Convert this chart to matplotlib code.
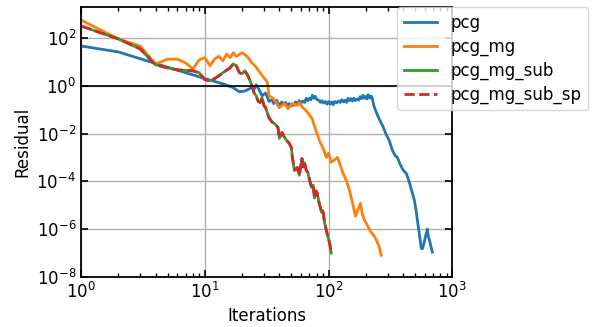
import matplotlib
matplotlib.use("Agg")
import matplotlib.pyplot as plt
from matplotlib.ticker import LogLocator, NullLocator

# pcg
it_pcg = [1, 2, 4, 6, 10, 14, 17, 19, 21, 23, 24, 25, 26, 27, 29, 31, 33, 35, 36, 38,
          40, 42, 43, 45, 46, 48, 50, 51, 53, 54, 56, 58, 60, 62, 64, 66, 68, 70, 72,
          74, 76, 78, 80, 83, 86, 88, 91, 94, 97, 100, 103, 106, 109, 112, 116, 120,
          124, 128, 132, 136, 140, 144, 148, 152, 156, 160, 165, 170, 175, 180, 185,
          190, 195, 200, 204, 208, 212, 215, 219, 222, 226, 232, 245,
          260, 275, 290, 310, 328, 345, 360, 380, 400, 426, 450, 470, 494, 510, 522,
          545, 562, 573, 590, 606, 618, 629, 640, 653, 670, 690]
res_pcg = [46, 26, 8.5, 4.5, 2.0, 1.2, 0.83, 0.56, 0.6, 0.75, 0.85, 0.7, 1.1, 0.8, 0.38,
           0.5, 0.22, 0.26, 0.18, 0.25, 0.15, 0.21, 0.17, 0.2, 0.14, 0.18, 0.14, 0.17,
           0.15, 0.21, 0.18, 0.24, 0.19, 0.23, 0.2, 0.3, 0.24, 0.3, 0.26, 0.4, 0.3, 0.36,
           0.27, 0.25, 0.2, 0.24, 0.19, 0.22, 0.17, 0.22, 0.17, 0.21, 0.16, 0.22, 0.19,
           0.23, 0.2, 0.26, 0.21, 0.25, 0.2, 0.3, 0.24, 0.29, 0.23, 0.3, 0.24, 0.28, 0.25,
           0.35, 0.29, 0.4, 0.3, 0.35, 0.28, 0.42, 0.31, 0.38, 0.3, 0.36, 0.3, 0.15, 0.07,
           0.035, 0.02, 0.01, 5e-3, 2e-3, 1.2e-3, 1e-3, 5e-4, 3e-4, 2.1e-4, 9e-5, 4e-5,
           1.6e-5, 6e-6, 2.4e-6, 5e-7, 1.6e-7, 1.5e-7, 2.5e-7, 4.7e-7, 7e-7, 1e-6, 5e-7,
           3.5e-7, 2e-7, 1.1e-7]

# pcg_mg
it_mg = [1, 2, 3, 4, 5, 6, 7, 8, 9, 10, 11, 12, 13, 14, 15, 16, 17, 18, 20, 22, 24, 26,
         28, 30, 32, 33, 36, 40, 44, 47, 51, 56, 58, 62, 66, 70, 74, 77, 82, 86, 90, 96,
         100, 105, 112, 118, 124, 130, 140, 147, 155, 165, 172, 181, 188, 195, 205, 220,
         235, 243, 255, 267]
res_mg = [560, 91, 46, 8.0, 13, 13, 9, 5.1, 12, 15, 6.8, 13, 17, 11, 21, 15, 24, 17, 24,
          17, 9, 6, 3.5, 2.2, 1.4, 0.38, 0.29, 0.12, 0.18, 0.11, 0.18, 0.15, 0.2, 0.12,
          0.09, 0.06, 0.04, 0.02, 8e-3, 4e-3, 2.6e-3, 1e-3, 1.5e-3, 6.3e-4, 8e-4, 1e-3,
          5e-4, 2.4e-4, 1e-4, 4.5e-5, 1.5e-5, 3.5e-6, 6e-6, 1.2e-5, 4e-6, 2.4e-6, 1.5e-6,
          7.5e-7, 5e-7, 3.5e-7, 2e-7, 8e-8]

# pcg_mg_sub (pcg_mg_sub_sp gives the same residuals)
it_sub = [1, 2, 3, 4, 5, 6, 8, 9, 10, 11, 12, 13, 14, 15, 16, 17, 18, 19, 20, 21, 22, 23,
          24, 25, 26, 27, 28, 29, 30, 31, 33, 35, 37, 39, 40, 42, 44, 46, 48, 50, 51, 53,
          56, 58, 61, 62, 64, 66, 68, 70, 73, 75, 77, 79, 81, 84, 88, 90, 93, 98, 102, 105]
res_sub = [316, 91, 35, 7.5, 5.6, 4.6, 4.2, 3.5, 1.8, 1.6, 2.0, 2.6, 3.5, 4.5, 5.6, 8.2,
           6.8, 3.5, 3.2, 4.2, 3.0, 1.8, 1.0, 0.5, 0.38, 0.22, 0.2, 0.32, 0.15, 0.12,
           0.046, 0.03, 0.025, 0.018, 6.3e-3, 0.011, 7e-3, 5e-3, 4e-3, 2.6e-3, 1e-3,
           2.9e-4, 3.8e-4, 1.8e-4, 9e-4, 4e-4, 6e-4, 2.9e-4, 2.4e-4, 1.2e-4, 5.6e-5, 7e-5,
           2e-5, 4e-5, 3.2e-5, 1.2e-5, 5e-6, 6e-6, 1.8e-6, 5.6e-7, 2.6e-7, 1e-7]

plt.rcParams['font.size'] = 12

fig = plt.figure(figsize=(5.92, 3.27), dpi=100)
ax = fig.add_axes([0.137, 0.153, 0.627, 0.826])

ax.plot(it_pcg, res_pcg, color='tab:blue', lw=2, label='pcg')
ax.plot(it_mg, res_mg, color='tab:orange', lw=2, label='pcg_mg')
ax.plot(it_sub, res_sub, color='tab:green', lw=2, label='pcg_mg_sub')
ax.plot(it_sub, res_sub, color='tab:red', lw=2, ls='--', label='pcg_mg_sub_sp')
ax.axhline(1, color='k', lw=1.2)

ax.set_xscale('log')
ax.set_yscale('log')
ax.set_xlim(1, 1000)
ax.set_ylim(1e-8, 10**3.3)
ax.yaxis.set_major_locator(LogLocator(base=10, numticks=6))
ax.yaxis.set_minor_locator(NullLocator())
ax.grid(True, which='major', color='#b0b0b0', lw=1)
ax.tick_params(which='both', direction='in', top=True, right=True)
ax.tick_params(which='major', length=5, width=1.2)
ax.tick_params(which='minor', length=3, width=1)
for s in ax.spines.values():
    s.set_linewidth(1.3)

ax.set_xlabel('Iterations')
ax.set_ylabel('Residual')
ax.legend(loc='upper left', bbox_to_anchor=(0.852, 1.0), borderaxespad=0,
          labelspacing=0.35)

fig.savefig('out.png')
